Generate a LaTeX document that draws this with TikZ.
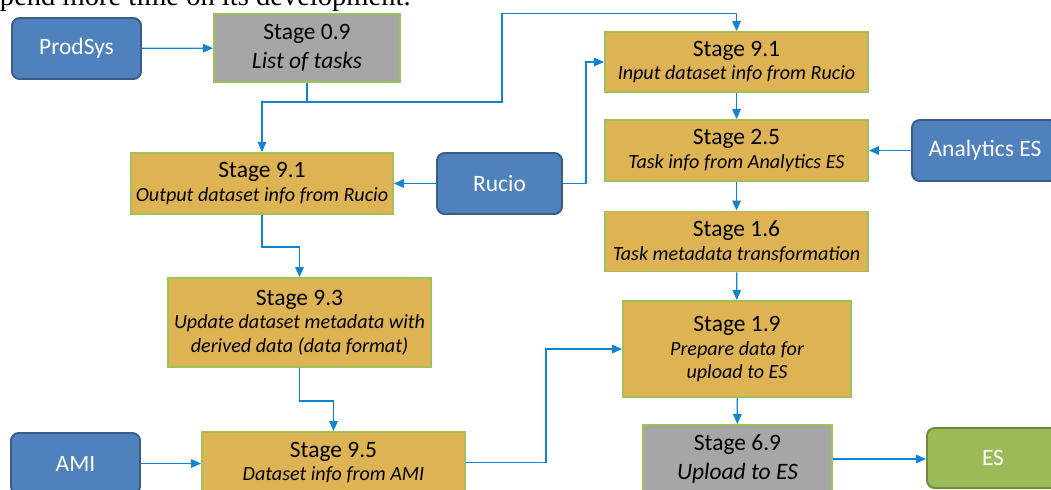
\documentclass[tikz,border=0pt]{standalone}
\usepackage{fontspec}
\setmainfont{Carlito}
\newfontfamily\serifbody{Liberation Serif}
\usetikzlibrary{arrows.meta}
\definecolor{stgfill}{RGB}{222,179,83}
\definecolor{stgline}{RGB}{158,193,89}
\definecolor{gryfill}{RGB}{166,166,166}
\definecolor{srcfill}{RGB}{79,129,189}
\definecolor{srcline}{RGB}{56,93,138}
\definecolor{dstfill}{RGB}{155,187,89}
\definecolor{dstline}{RGB}{113,137,63}
\definecolor{flow}{RGB}{16,132,212}
\tikzset{
  >={Triangle[length=7pt,width=6pt]},
  sz/.style 2 args={minimum width=#1*0.025cm,minimum height=#2*0.025cm},
  stg/.style={draw=stgline,line width=1.4pt,fill=stgfill,align=center,inner sep=0pt,font=\fontsize{16.7}{16.8}\selectfont},
  gry/.style={stg,fill=gryfill,font=\fontsize{16.7}{20.6}\selectfont},
  src/.style={draw=srcline,line width=1.4pt,fill=srcfill,rounded corners=5.5pt,text=white,inner sep=0pt,font=\fontsize{16.7}{20}\selectfont},
  dst/.style={src,draw=dstline,fill=dstfill},
  ln/.style={draw=flow,line width=0.9pt,->},
  every picture/.style={line width=0.5pt},
}
\newcommand{\desc}[1]{{\fontsize{14.3}{16.8}\selectfont\itshape #1}}

\begin{document}
\begin{tikzpicture}[x=0.025cm,y=-0.025cm]
\useasboundingbox (0,0) rectangle (1051,489);
\node[anchor=base east,inner sep=0pt,font=\serifbody\fontsize{20.3}{21}\selectfont] (txt) at (411,5.5){spend more time on its development.};
% sources
\node[src,sz={129}{61}] (prod) at (76.5,48.5){ProdSys}; \node[src,sz={125}{61}] (rucio) at (499.5,183.5){Rucio};
\node[src,sz={146}{61}] (anes) at (985,150.5){Analytics ES}; \node[src,sz={129}{61}] (ami) at (75.5,463.5){AMI};
\node[dst,sz={132}{60}] (es) at (993,458){ES};
% left column
\node[gry,sz={186}{68}] (s09) at (307,48){Stage 0.9\\\textit{List of tasks}};
\node[stg,sz={262}{61}] (s91o) at (262,183.5){Stage 9.1\\\desc{Output dataset info from Rucio}};
\node[stg,sz={263}{89}] (s93) at (299.5,322.5){Stage 9.3\\\desc{Update dataset metadata with}\\\desc{derived data (data format)}};
\node[stg,sz={263}{61}] (s95) at (333.5,462.5){Stage 9.5\\\desc{Dataset info from AMI}};
% right column
\node[stg,sz={263}{60}] (s91i) at (736.5,62){Stage 9.1\\\desc{Input dataset info from Rucio}};
\node[stg,sz={263}{61}] (s25) at (736.5,150.5){Stage 2.5\\\desc{Task info from Analytics ES}};
\node[stg,sz={263}{60}] (s16) at (736.5,241.5){Stage 1.6\\\desc{Task metadata transformation}};
\node[stg,sz={228}{96}] (s19) at (737,349){Stage 1.9\\\desc{Prepare data for}\\\desc{upload to ES}};
\node[gry,sz={189}{68}] (s69) at (737.5,459){Stage 6.9\\\textit{Upload to ES}};
% flows
\draw[ln] (prod)--(s09); \draw[ln] (s09.south)--++(0,19)-|(s91o.north);
\draw[ln] (s09.south)--++(0,19)-|++(195,-88.5)-|(s91i.north);
\draw[ln] (rucio)--(s91o); \draw[ln] (rucio.east)--++(23,0)|-(s91i.west);
\draw[ln] (s91i)--(s25); \draw[ln] (s25)--(s16); \draw[ln] (s16)--(s19); \draw[ln] (s19)--(s69);
\draw[ln] (anes)--(s25); \draw[ln] (s69.east)--(s69.east-|es.west);
\draw[ln] (s91o.south)--++(0,32)-|(s93.north); \draw[ln] (s93.south)--++(0,33)-|(s95.north);
\draw[ln] (ami.east)--(ami.east-|s95.west); \draw[ln] (s95.east)--++(80,0)|-(s19.west);
\end{tikzpicture}
\end{document}
